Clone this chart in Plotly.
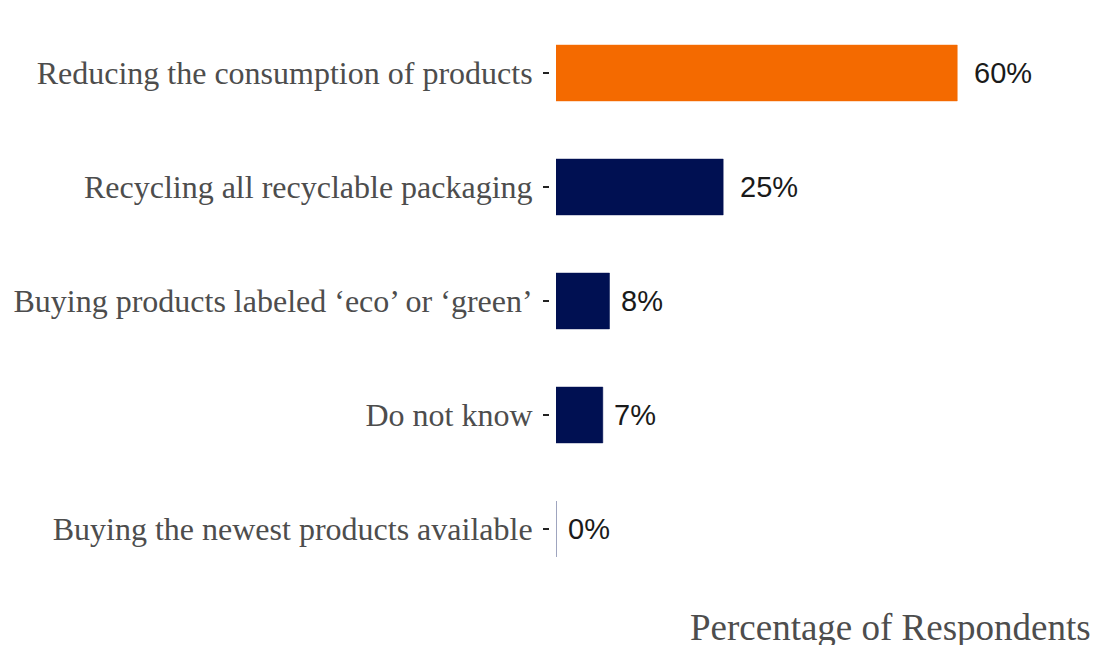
import plotly.graph_objects as go

# Survey responses
categories = [
    "Reducing the consumption of products",
    "Recycling all recyclable packaging",
    "Buying products labeled \u2018eco\u2019 or \u2018green\u2019",
    "Do not know",
    "Buying the newest products available",
]
percentages = [60, 25, 8, 7, 0]
value_labels = ["60%", "25%", "8%", "7%", "0%"]

ORANGE = "#F46A00"
NAVY = "#001052"
highlight = [ORANGE, NAVY, NAVY, NAVY, NAVY]

LABEL_SIZE = 29
W, H = 1097, 645
M_L, M_R, M_T, M_B = 549, 6, 16, 59
plot_w = W - M_L - M_R
gap = 7 / plot_w  # space between the y ticks and the bars

fig = go.Figure()
fig.add_trace(go.Bar(
    x=percentages,
    y=categories,
    orientation="h",
    width=0.49,
    marker=dict(color=highlight, line=dict(color=highlight, width=0.5)),
    hoverinfo="skip",
))


def text_width(s, size):
    # approximate Arial advance widths
    w = 0.0
    for ch in s:
        w += 0.889 if ch == "%" else 0.556
    return w * size


for cat, val, lab in zip(categories, percentages, value_labels):
    fig.add_annotation(
        x=val, y=cat, text=lab, showarrow=False,
        xanchor="left", yanchor="middle",
        xshift=0.3 * text_width(lab, LABEL_SIZE) - 3,
        font=dict(family="Liberation Sans, Arial", size=LABEL_SIZE, color="#1a1a1a"),
    )

# outline for zero-length bars
for i, (val, col) in enumerate(zip(percentages, highlight)):
    if val == 0:
        fig.add_shape(type="line", xref="x", yref="y",
                      x0=val, x1=val, y0=i - 0.245, y1=i + 0.245,
                      line=dict(color="#aeb3cc", width=1))

# axis title, right-aligned beneath the plot
fig.add_annotation(
    text="Percentage of Respondents",
    xref="paper", yref="paper", x=1, y=0,
    xanchor="right", yanchor="top", yshift=-19, xshift=2,
    showarrow=False,
    font=dict(family="Liberation Serif, Times New Roman", size=37, color="#4d4d4d"),
)

fig.update_layout(
    width=W, height=H,
    margin=dict(l=M_L, r=M_R, t=M_T, b=M_B),
    paper_bgcolor="white",
    plot_bgcolor="white",
    showlegend=False,
    xaxis=dict(
        domain=[gap, 1],
        range=[0, 80],
        showgrid=False, zeroline=False, showline=False,
        showticklabels=False, ticks="",
    ),
    yaxis=dict(
        anchor="free", position=0,
        categoryorder="array", categoryarray=categories,
        autorange="reversed",
        showgrid=False, zeroline=False, showline=False,
        ticks="outside", ticklen=6, tickwidth=1.8, tickcolor="#222222",
        ticklabelstandoff=4,
        tickfont=dict(family="Liberation Serif, Times New Roman", size=32, color="#4d4d4d"),
    ),
)

fig.write_html("out.html")
